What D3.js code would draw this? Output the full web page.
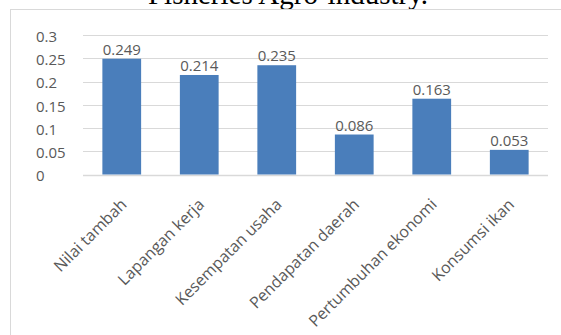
<!DOCTYPE html>
<html>
<head>
<meta charset="utf-8">
<script src="https://cdn.jsdelivr.net/npm/d3@7"></script>
<style>
  body { margin: 0; background: #fff; }
  svg { display: block; }
</style>
</head>
<body>
<div class="chart"></div>
<script>
// data
var categories = ["Nilai tambah", "Lapangan kerja", "Kesempatan usaha",
    "Pendapatan daerah", "Pertumbuhan ekonomi", "Konsumsi ikan"];
var values = [0.249, 0.214, 0.235, 0.086, 0.163, 0.053];
var yTicks = [0, 0.05, 0.1, 0.15, 0.2, 0.25, 0.3];
var yTickLabels = ["0", "0.05", "0.1", "0.15", "0.2", "0.25", "0.3"];

var svgWidth = 561;
var svgHeight = 335;

var plot = { left: 83, right: 548, top: 35, bottom: 174.5 };

var svg = d3.select(".chart").append("svg")
    .attr("width", svgWidth).attr("height", svgHeight);

// title (cut off at top in the reference)
svg.append("text")
    .attr("x", 288)
    .attr("y", 4)
    .attr("text-anchor", "middle")
    .attr("font-family", "Liberation Serif, Times New Roman, serif")
    .attr("font-size", "29px")
    .attr("fill", "#000")
    .text("Fisheries Agro-industry.");

// chart frame
svg.append("rect")
    .attr("x", 10.5).attr("y", 9.5)
    .attr("width", 560).attr("height", 340)
    .attr("fill", "#fff")
    .attr("stroke", "#d9d9d9");

var x = d3.scaleBand()
    .domain(categories)
    .range([plot.left, plot.right])
    .paddingInner(0.5)
    .paddingOuter(0.25);

var y = d3.scaleLinear()
    .domain([0, 0.3])
    .range([plot.bottom, plot.top]);

// gridlines
svg.append("g")
    .selectAll("line")
    .data(yTicks).enter().append("line")
    .attr("x1", plot.left).attr("x2", plot.right)
    .attr("y1", d => Math.round(y(d)) + 0.5)
    .attr("y2", d => Math.round(y(d)) + 0.5)
    .attr("stroke", "#d9d9d9")
    .attr("stroke-width", d => d === 0 ? 1.5 : 1);

// y tick labels (left aligned like the original)
svg.append("g")
    .selectAll("text")
    .data(yTicks).enter().append("text")
    .attr("x", 36)
    .attr("y", d => y(d))
    .attr("dy", "0.45em")
    .attr("font-family", "Open Sans, sans-serif")
    .attr("font-size", "15px")
    .attr("fill", "#595959")
    .text((d, i) => yTickLabels[i]);

// bars
svg.append("g")
    .selectAll("rect")
    .data(values).enter().append("rect")
    .attr("x", (d, i) => x(categories[i]))
    .attr("y", d => y(d))
    .attr("width", x.bandwidth())
    .attr("height", d => y(0) - y(d))
    .attr("fill", "#4a7ebb");

// value labels
svg.append("g")
    .selectAll("text")
    .data(values).enter().append("text")
    .attr("x", (d, i) => x(categories[i]) + x.bandwidth() / 2)
    .attr("y", d => y(d) - 4)
    .attr("text-anchor", "middle")
    .attr("font-family", "Open Sans, sans-serif")
    .attr("font-size", "15px")
    .attr("fill", "#595959")
    .text(d => d3.format(".3f")(d));

// category labels, rotated
svg.append("g")
    .selectAll("text")
    .data(categories).enter().append("text")
    .attr("transform", d => `translate(${x(d) + x.bandwidth() / 2 + 6},${plot.bottom + 31}) rotate(-45)`)
    .attr("text-anchor", "end")
    .attr("font-family", "Open Sans, sans-serif")
    .attr("font-size", "16px")
    .attr("fill", "#595959")
    .text(d => d);
</script>
</body>
</html>
